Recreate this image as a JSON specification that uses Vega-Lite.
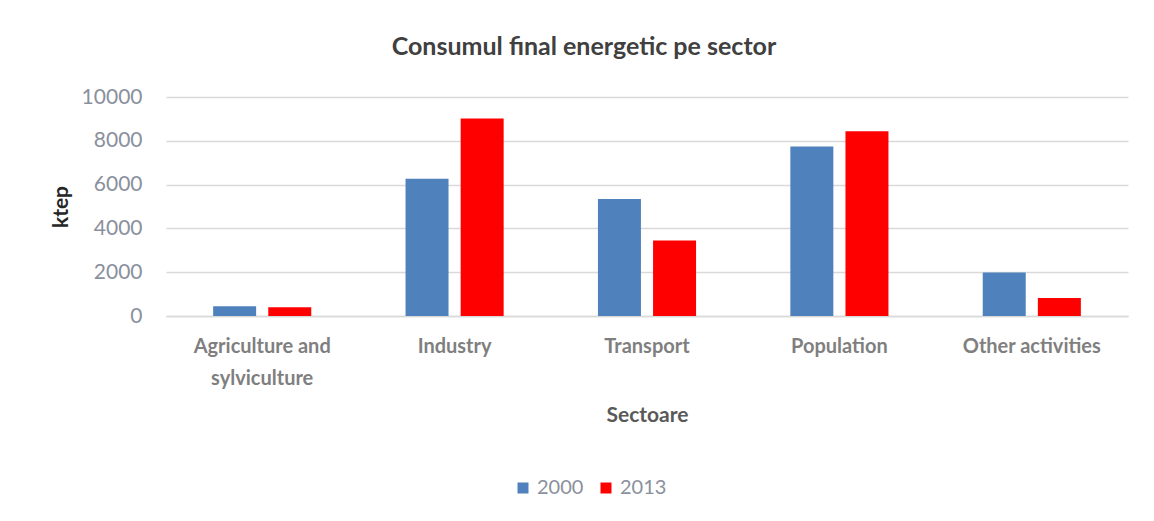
{
  "$schema": "https://vega.github.io/schema/vega-lite/v6.json",
  "autosize": {"type": "none"},
  "width": 962,
  "height": 219,
  "padding": {"left": 166, "top": 97, "right": 26, "bottom": 205},
  "background": "white",
  "title": {
    "text": "Consumul final energetic pe sector",
    "font": "Lato",
    "fontSize": 25,
    "fontWeight": "bold",
    "color": "#404040",
    "anchor": "middle",
    "dx": -63,
    "offset": 26
  },
  "data": {
    "values": [
      {"sector": "Agriculture and sylviculture", "year": "2000", "ktep": 440},
      {"sector": "Agriculture and sylviculture", "year": "2013", "ktep": 400},
      {"sector": "Industry", "year": "2000", "ktep": 6270},
      {"sector": "Industry", "year": "2013", "ktep": 9020},
      {"sector": "Transport", "year": "2000", "ktep": 5340},
      {"sector": "Transport", "year": "2013", "ktep": 3450},
      {"sector": "Population", "year": "2000", "ktep": 7740},
      {"sector": "Population", "year": "2013", "ktep": 8440},
      {"sector": "Other activities", "year": "2000", "ktep": 1990},
      {"sector": "Other activities", "year": "2013", "ktep": 820}
    ]
  },
  "mark": {"type": "bar"},
  "encoding": {
    "x": {
      "field": "sector",
      "type": "nominal",
      "sort": null,
      "title": "Sectoare",
      "scale": {"paddingInner": 0.49, "paddingOuter": 0.245},
      "axis": {
        "labelAngle": 0,
        "labelFont": "Lato",
        "labelFontSize": 20,
        "labelFontWeight": "bold",
        "labelColor": "#7f7f7f",
        "labelPadding": 20,
        "labelLineHeight": 32,
        "labelExpr": "datum.value == 'Agriculture and sylviculture' ? ['Agriculture and', 'sylviculture'] : datum.value",
        "labelLimit": 300,
        "ticks": false,
        "domainColor": "#d9d9d9",
        "domainWidth": 1.5,
        "titleFont": "Lato",
        "titleFontSize": 21,
        "titleFontWeight": "bold",
        "titleColor": "#595959",
        "titlePadding": 16
      }
    },
    "xOffset": {
      "field": "year",
      "type": "nominal",
      "scale": {"paddingInner": 0.22, "paddingOuter": 0}
    },
    "y": {
      "field": "ktep",
      "type": "quantitative",
      "title": "ktep",
      "scale": {"domain": [0, 10000]},
      "axis": {
        "values": [0, 2000, 4000, 6000, 8000, 10000],
        "format": "d",
        "domain": false,
        "ticks": false,
        "labelFont": "Lato",
        "labelFontSize": 21,
        "labelColor": "#8a909c",
        "labelPadding": 24,
        "gridColor": "#d9d9d9",
        "gridWidth": 1.5,
        "titleFont": "Lato",
        "titleFontSize": 21,
        "titleFontWeight": "bold",
        "titleColor": "#262626",
        "titlePadding": 10
      }
    },
    "color": {
      "field": "year",
      "type": "nominal",
      "scale": {"domain": ["2000", "2013"], "range": ["#4f81bd", "#ff0000"]},
      "legend": {
        "title": null,
        "orient": "none",
        "legendX": 347,
        "legendY": 381,
        "direction": "horizontal",
        "symbolType": "square",
        "symbolSize": 121,
        "symbolStrokeWidth": 0,
        "labelFont": "Lato",
        "labelFontSize": 20,
        "labelColor": "#8a909c",
        "labelOffset": 4,
        "columnPadding": 12
      }
    }
  },
  "config": {
    "view": {"stroke": null}
  }
}
